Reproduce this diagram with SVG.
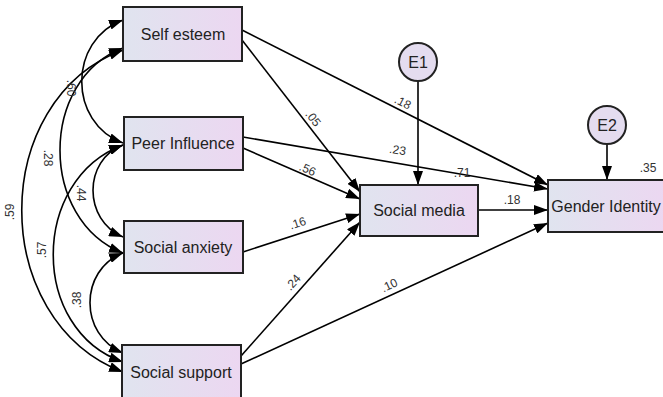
<svg xmlns="http://www.w3.org/2000/svg" width="663" height="397" viewBox="0 0 663 397">
<defs>
<linearGradient id="g" x1="0" y1="0" x2="1" y2="0">
<stop offset="0" stop-color="#e0e4ef"/>
<stop offset="1" stop-color="#ecd7f1"/>
</linearGradient>
<marker id="ah" viewBox="0 0 14 10" refX="14" refY="5" markerWidth="14" markerHeight="10" markerUnits="userSpaceOnUse" orient="auto-start-reverse">
<path d="M0,0 L14,5 L0,10 Z" fill="#000"/>
</marker>
<style>
.box{fill:url(#g);stroke:#222;stroke-width:2}
.circ{fill:#e4dcef;stroke:#222;stroke-width:2}
.lbl{font-family:"Liberation Sans",Arial,sans-serif;font-size:16px;fill:#222;text-anchor:middle}
.num{font-family:"Liberation Sans",Arial,sans-serif;font-size:12px;fill:#333;text-anchor:middle}
.ln{fill:none;stroke:#000;stroke-width:1.6;marker-end:url(#ah)}
.cov{fill:none;stroke:#000;stroke-width:1.6;marker-start:url(#ah);marker-end:url(#ah)}
</style>
</defs>
<rect width="663" height="397" fill="#fff"/>
<g id="connectors">
<path class="cov" d="M123,20 C68,40 68,123 123,143"/>
<path class="cov" d="M123,48 C39,80 39,220 123,253"/>
<path class="cov" d="M123,50 C-12,100 -12,320 123,372"/>
<path class="cov" d="M123,145 C83,160 83,220 123,237"/>
<path class="cov" d="M123,145 C30,180 30,330 123,362"/>
<path class="cov" d="M123,253 C79,270 79,335 123,353"/>
<path class="ln" d="M242,40 L360,192"/>
<path class="ln" d="M242,30 L548,185"/>
<path class="ln" d="M243,148 L360,199"/>
<path class="ln" d="M243,137 L548,189"/>
<path class="ln" d="M243,252 L360,214"/>
<path class="ln" d="M241,356 L360,222"/>
<path class="ln" d="M241,364 L548,223"/>
<path class="ln" d="M478,210 L548,210"/>
<path class="ln" d="M418,82 L418,185"/>
<path class="ln" d="M607,145 L607,180"/>
<text class="num" transform="translate(67,88) rotate(90)">.60</text>
<text class="num" transform="translate(44,158) rotate(90)">.28</text>
<text class="num" transform="translate(77,193) rotate(90)">.44</text>
<text class="num" transform="translate(14,212) rotate(-90)">.59</text>
<text class="num" transform="translate(46,250) rotate(-90)">.57</text>
<text class="num" transform="translate(81,300) rotate(-90)">.38</text>
<text class="num" transform="translate(310,121) rotate(52)">.05</text>
<text class="num" transform="translate(401,106) rotate(27)">.18</text>
<text class="num" transform="translate(306,173) rotate(23)">.56</text>
<text class="num" transform="translate(397,154) rotate(9)">.23</text>
<text class="num" x="462" y="177">.71</text>
<text class="num" transform="translate(299,227) rotate(-18)">.16</text>
<text class="num" transform="translate(296,285) rotate(-48)">.24</text>
<text class="num" transform="translate(391,289) rotate(-25)">.10</text>
<text class="num" x="512" y="204">.18</text>
<text class="num" x="648" y="172">.35</text>
</g>
<g id="self-esteem"><rect class="box" x="123" y="7" width="119" height="54"/><text class="lbl" x="183" y="40">Self esteem</text></g>
<g id="peer-influence"><rect class="box" x="124" y="117" width="119" height="53"/><text class="lbl" x="183" y="149">Peer Influence</text></g>
<g id="social-anxiety"><rect class="box" x="124" y="221" width="119" height="52"/><text class="lbl" x="183" y="253">Social anxiety</text></g>
<g id="social-support"><rect class="box" x="122" y="345" width="119" height="60"/><text class="lbl" x="181" y="378">Social support</text></g>
<g id="social-media"><rect class="box" x="360" y="185" width="118" height="51"/><text class="lbl" x="419" y="216">Social media</text></g>
<g id="gender-identity"><rect class="box" x="548" y="180" width="120" height="52"/><text class="lbl" x="606" y="212">Gender Identity</text></g>
<g id="e1"><circle class="circ" cx="418" cy="62" r="19"/><text class="lbl" x="418" y="68">E1</text></g>
<g id="e2"><circle class="circ" cx="607" cy="125" r="19"/><text class="lbl" x="607" y="131">E2</text></g>
</svg>
